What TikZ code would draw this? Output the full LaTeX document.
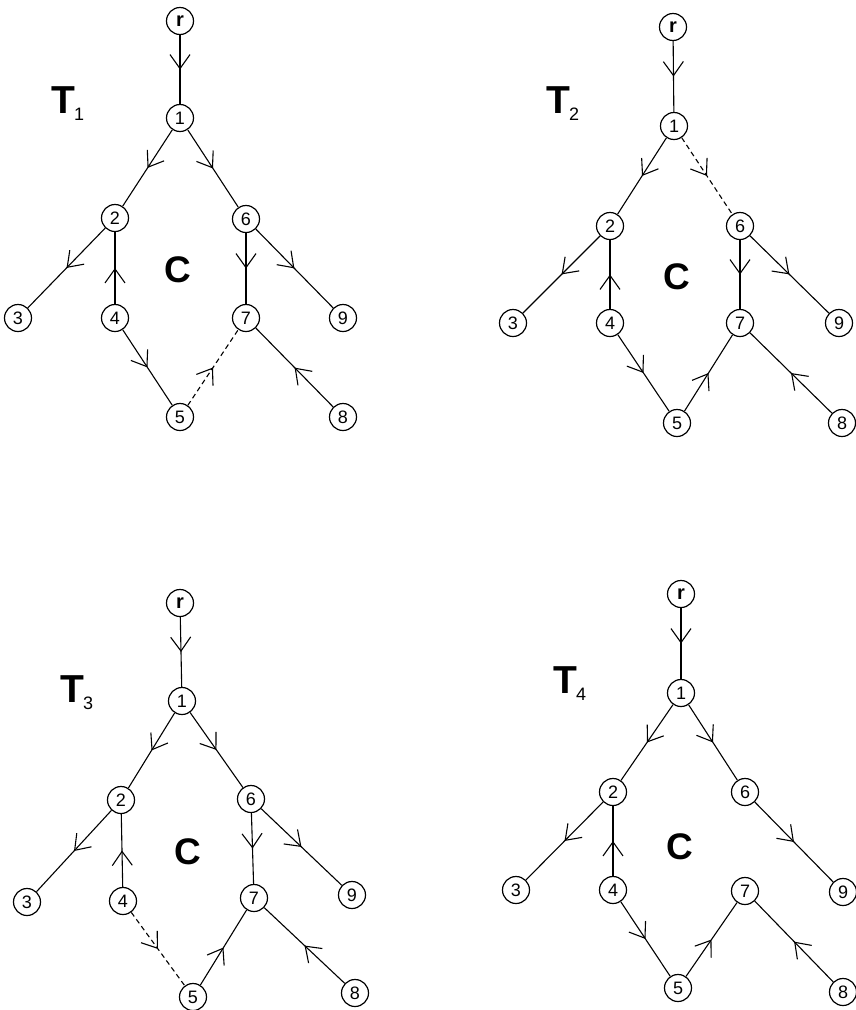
\documentclass[tikz,border=0pt]{standalone}
\usepackage{fontspec}
\setmainfont{Liberation Sans}
\usetikzlibrary{arrows.meta,decorations.markings}
\tikzset{
  vx/.style={circle,draw,line width=1.2pt,minimum size=27pt,inner sep=0pt,font=\fontsize{18}{18}\selectfont},
  rt/.style={vx,font=\fontsize{20}{20}\selectfont\bfseries},
  ed/.style={line width=1.1pt,postaction={decorate},
    decoration={markings,mark=at position 0.5 with {\arrow{Straight Barb[length=14pt,width=20pt,line width=1.1pt]}}}},
  dsh/.style={ed,dash pattern=on 5pt off 3.5pt},
  tlab/.style={anchor=base west,inner sep=0pt,font=\fontsize{39}{39}\selectfont\bfseries},
  clab/.style={inner sep=0pt,font=\fontsize{37}{37}\selectfont\bfseries}
}
\newcommand{\tl}[1]{T\kern-1pt{\fontsize{18}{18}\selectfont\mdseries\raisebox{-7pt}{#1}}}
\begin{document}
\begin{tikzpicture}[x=1pt,y=-1pt]
\useasboundingbox (0,0) rectangle (856,1010);
% ---------- T1 ----------
\node[rt] (ar) at (180,21) {r};
\node[vx] (a1) at (180,118) {1};
\node[vx] (a2) at (115,218) {2};
\node[vx] (a6) at (246,219) {6};
\node[vx] (a3) at (18,318) {3};
\node[vx] (a4) at (115,318) {4};
\node[vx] (a7) at (246,318) {7};
\node[vx] (a9) at (343,318) {9};
\node[vx] (a5) at (180,417) {5};
\node[vx] (a8) at (343,417) {8};
\node[tlab] (aT) at (51,113) {\tl{1}};
\node[clab] (aC) at (178,270) {C};
\draw[ed] (ar) -- (a1);
\draw[ed] (a1) -- (a2);
\draw[ed] (a1) -- (a6);
\draw[ed] (a2) -- (a3);
\draw[ed] (a4) -- (a2);
\draw[ed] (a4) -- (a5);
\draw[dsh] (a5) -- (a7);
\draw[ed] (a6) -- (a7);
\draw[ed] (a6) -- (a9);
\draw[ed] (a8) -- (a7);
% ---------- T2 ----------
\node[rt] (br) at (673,27) {r};
\node[vx] (b1) at (674,126) {1};
\node[vx] (b2) at (610,226) {2};
\node[vx] (b6) at (740,226) {6};
\node[vx] (b3) at (513,323) {3};
\node[vx] (b4) at (610,323) {4};
\node[vx] (b7) at (740,323) {7};
\node[vx] (b9) at (839,323) {9};
\node[vx] (b5) at (677,423) {5};
\node[vx] (b8) at (842,423) {8};
\node[tlab] (bT) at (546,113) {\tl{2}};
\node[clab] (bC) at (677,277) {C};
\draw[ed] (br) -- (b1);
\draw[ed] (b1) -- (b2);
\draw[dsh] (b1) -- (b6);
\draw[ed] (b2) -- (b3);
\draw[ed] (b4) -- (b2);
\draw[ed] (b4) -- (b5);
\draw[ed] (b5) -- (b7);
\draw[ed] (b6) -- (b7);
\draw[ed] (b6) -- (b9);
\draw[ed] (b8) -- (b7);
% ---------- T3 ----------
\node[rt] (cr) at (180,603) {r};
\node[vx] (c1) at (182,701) {1};
\node[vx] (c2) at (121,800) {2};
\node[vx] (c6) at (251,799) {6};
\node[vx] (c3) at (27,902) {3};
\node[vx] (c4) at (123,901) {4};
\node[vx] (c7) at (254,898) {7};
\node[vx] (c9) at (352,895) {9};
\node[vx] (c5) at (193,997) {5};
\node[vx] (c8) at (355,993) {8};
\node[tlab] (cT) at (60,702) {\tl{3}};
\node[clab] (cC) at (188,852) {C};
\draw[ed] (cr) -- (c1);
\draw[ed] (c1) -- (c2);
\draw[ed] (c1) -- (c6);
\draw[ed] (c2) -- (c3);
\draw[ed] (c4) -- (c2);
\draw[dsh] (c4) -- (c5);
\draw[ed] (c5) -- (c7);
\draw[ed] (c6) -- (c7);
\draw[ed] (c6) -- (c9);
\draw[ed] (c8) -- (c7);
% ---------- T4 ----------
\node[rt] (dr) at (681,594) {r};
\node[vx] (d1) at (681,693) {1};
\node[vx] (d2) at (613,792) {2};
\node[vx] (d6) at (745,792) {6};
\node[vx] (d3) at (516,890) {3};
\node[vx] (d4) at (613,890) {4};
\node[vx] (d7) at (745,891) {7};
\node[vx] (d9) at (843,892) {9};
\node[vx] (d5) at (678,988) {5};
\node[vx] (d8) at (843,992) {8};
\node[tlab] (dT) at (553,693) {\tl{4}};
\node[clab] (dC) at (680,847) {C};
\draw[ed] (dr) -- (d1);
\draw[ed] (d1) -- (d2);
\draw[ed] (d1) -- (d6);
\draw[ed] (d2) -- (d3);
\draw[ed] (d4) -- (d2);
\draw[ed] (d4) -- (d5);
\draw[ed] (d5) -- (d7);
\draw[ed] (d6) -- (d9);
\draw[ed] (d8) -- (d7);
\end{tikzpicture}
\end{document}
